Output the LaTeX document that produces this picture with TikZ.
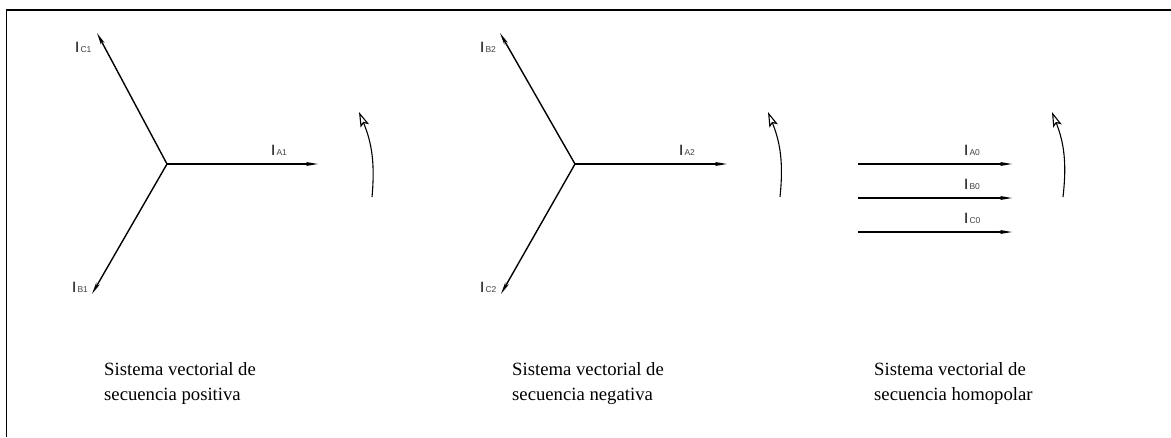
\documentclass[tikz,border=0pt]{standalone}
\usepackage{fontspec}
\setmainfont{Liberation Serif}
\newfontfamily\labfont{Liberation Sans}
\usetikzlibrary{arrows.meta}
\newcommand\cur[1]{{\labfont\fontsize{15}{15}\selectfont I\kern1.2pt{\color{black!75}\fontsize{8.5}{8.5}\selectfont #1}}}
\tikzset{
  vec/.style={line width=1.4pt,-{Stealth[length=12pt,width=4pt,inset=3pt]}},
  rot/.style={line width=1.1pt,-{Stealth[open,length=15pt,width=9pt,inset=3pt,line width=1.1pt]}},
  lab/.style={anchor=base west,inner sep=0pt},
  captext/.style={anchor=base west,inner sep=0pt,align=left,font=\fontsize{18.7}{25}\selectfont}
}
\begin{document}
\begin{tikzpicture}[x=1pt,y=-1pt]
\useasboundingbox (0,0) rectangle (1171,437);
% frame
\draw[line width=2.2pt] (6,10) -- (1171,10);
\draw[line width=1pt] (6,10) -- (6,437);
% positive sequence
\coordinate (O1) at (167,164);
\coordinate (A1) at (318,164);
\coordinate (B1) at (92,294);
\coordinate (C1) at (97,33);
\draw[vec] (O1) -- (A1);
\draw[vec] (O1) -- (B1);
\draw[vec] (O1) -- (C1);
\node[lab] (lA1) at (271,155) {\cur{A1}};
\node[lab] (lB1) at (72,292) {\cur{B1}};
\node[lab] (lC1) at (75,52) {\cur{C1}};
\coordinate (r1s) at (372,197);
\coordinate (r1e) at (359,112);
\draw[rot] (r1s) to[bend right=14] (r1e);
% negative sequence
\coordinate (O2) at (575,164);
\coordinate (A2) at (727,164);
\coordinate (B2) at (500,33);
\coordinate (C2) at (501,294);
\draw[vec] (O2) -- (A2);
\draw[vec] (O2) -- (B2);
\draw[vec] (O2) -- (C2);
\node[lab] (lA2) at (679,155) {\cur{A2}};
\node[lab] (lB2) at (480,52) {\cur{B2}};
\node[lab] (lC2) at (480,292) {\cur{C2}};
\coordinate (r2s) at (780,197);
\coordinate (r2e) at (768,112);
\draw[rot] (r2s) to[bend right=14] (r2e);
% zero sequence
\coordinate (a0s) at (858,164);
\coordinate (a0e) at (1012,164);
\coordinate (b0s) at (858,198);
\coordinate (b0e) at (1012,198);
\coordinate (c0s) at (858,232);
\coordinate (c0e) at (1012,232);
\draw[vec] (a0s) -- (a0e);
\draw[vec] (b0s) -- (b0e);
\draw[vec] (c0s) -- (c0e);
\node[lab] (lA0) at (964,155) {\cur{A0}};
\node[lab] (lB0) at (964,189) {\cur{B0}};
\node[lab] (lC0) at (964,223) {\cur{C0}};
\coordinate (r3s) at (1063,197);
\coordinate (r3e) at (1052,112);
\draw[rot] (r3s) to[bend right=14] (r3e);
% captions
\node[captext] (t1) at (104,400) {Sistema vectorial de\\secuencia positiva};
\node[captext] (t2) at (512,400) {Sistema vectorial de\\secuencia negativa};
\node[captext] (t3) at (874,400) {Sistema vectorial de\\secuencia homopolar};
\end{tikzpicture}
\end{document}
